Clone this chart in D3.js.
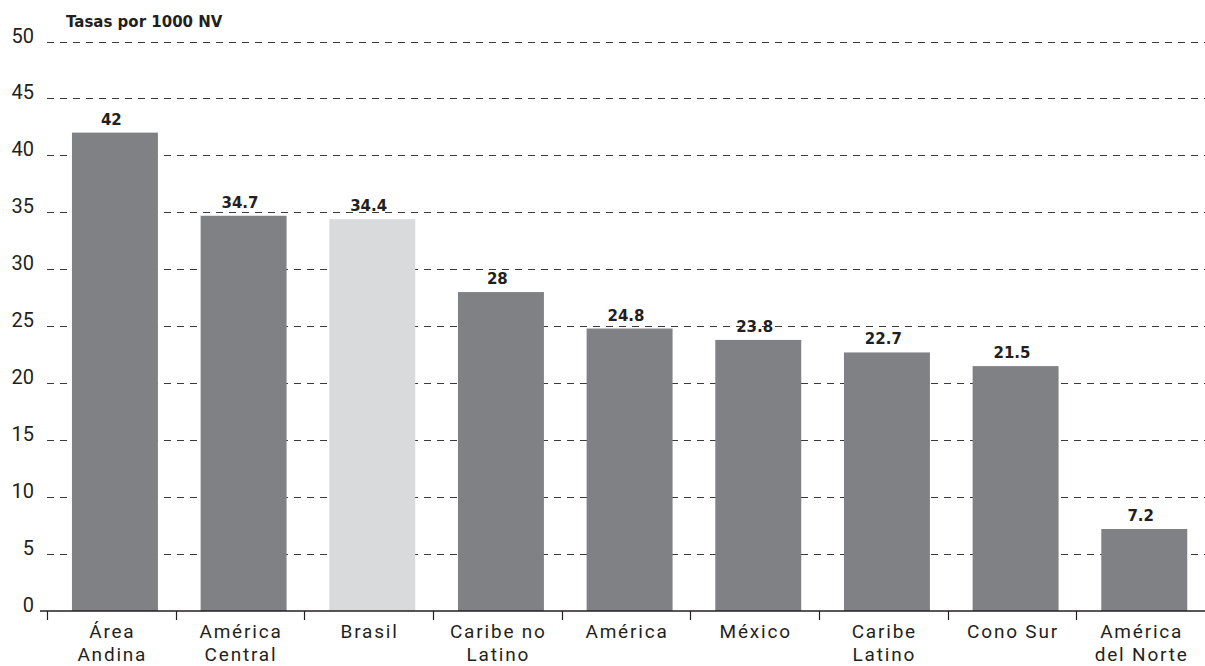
<!DOCTYPE html>
<html>
<head>
<meta charset="utf-8">
<script src="https://cdn.jsdelivr.net/npm/d3@7"></script>
<style>
  html, body { margin: 0; padding: 0; background: #fff; }
  svg { display: block; }
</style>
</head>
<body>
<svg id="chart" width="1205" height="666"></svg>
<script>
const categories = [["Área", "Andina"], ["América", "Central"], ["Brasil"], ["Caribe no", "Latino"], ["América"], ["México"], ["Caribe", "Latino"], ["Cono Sur"], ["América", "del Norte"]];
const values = [42, 34.7, 34.4, 28, 24.8, 23.8, 22.7, 21.5, 7.2];
const valueLabels = ["42", "34.7", "34.4", "28", "24.8", "23.8", "22.7", "21.5", "7.2"];
const highlighted = [false, false, true, false, false, false, false, false, false];
const yTicks = [0, 5, 10, 15, 20, 25, 30, 35, 40, 45, 50];
const yTitle = "Tasas por 1000 NV";

(function () {
const svg = d3.select("#chart");
const textColor = "#231f20";
const mLeft = 47, mRight = 1205, mBottom = 611, mTop = 41.5;

const keys = categories.map((c, i) => i);
const x = d3.scaleBand().domain(keys).range([mLeft, mRight]).padding(0);
const y = d3.scaleLinear().domain([0, 50]).range([mBottom, mTop]);
const bw = x.bandwidth();
const barOffset = bw * 0.194;
const barWidth = bw * 0.668;

// gridlines
svg.append("g").selectAll("line").data(yTicks.filter(t => t > 0)).join("line")
  .attr("x1", mLeft).attr("x2", mRight)
  .attr("y1", d => Math.round(y(d)) + 0.5).attr("y2", d => Math.round(y(d)) + 0.5)
  .attr("stroke", "#3a3a3a").attr("stroke-width", 1.1)
  .attr("stroke-dasharray", "7,6");

// y labels
svg.append("g").selectAll("text").data(yTicks).join("text")
  .attr("x", 34).attr("y", d => y(d) + 1)
  .attr("text-anchor", "end")
  .attr("font-family", "Roboto, sans-serif").attr("font-size", 20)
  .attr("fill", textColor)
  .text(d => d);

// title
svg.append("text").attr("x", 66).attr("y", 27)
  .attr("font-family", "'DejaVu Sans', sans-serif").attr("font-weight", "bold").attr("font-size", 15)
  .attr("fill", textColor).text(yTitle);

// bars
svg.append("g").selectAll("rect").data(values).join("rect")
  .attr("x", (d, i) => x(i) + barOffset)
  .attr("width", barWidth)
  .attr("y", d => y(d))
  .attr("height", d => y(0) - y(d))
  .attr("fill", (d, i) => highlighted[i] ? "#d9dadc" : "#808185");

// value labels
svg.append("g").selectAll("text").data(values).join("text")
  .attr("x", (d, i) => x(i) + bw / 2)
  .attr("y", d => y(d) - 8)
  .attr("text-anchor", "middle")
  .attr("font-family", "'DejaVu Sans', sans-serif").attr("font-weight", "bold").attr("font-size", 15)
  .attr("fill", textColor)
  .text((d, i) => valueLabels[i]);

// x axis line
svg.append("line").attr("x1", 40).attr("x2", mRight)
  .attr("y1", mBottom).attr("y2", mBottom)
  .attr("stroke", "#231f20").attr("stroke-width", 1.4);

// ticks
svg.append("g").selectAll("line").data(keys).join("line")
  .attr("x1", d => Math.round(x(d)) + 0.5).attr("x2", d => Math.round(x(d)) + 0.5)
  .attr("y1", mBottom).attr("y2", mBottom + 9)
  .attr("stroke", "#231f20").attr("stroke-width", 1.2);

// category labels
const cl = svg.append("g").selectAll("text").data(categories).join("text")
  .attr("text-anchor", "middle")
  .attr("font-family", "Roboto, sans-serif").attr("font-size", 19)
  .attr("letter-spacing", "1.8px")
  .attr("fill", textColor);
cl.each(function(lines, i) {
  const t = d3.select(this);
  lines.forEach((ln, j) => {
    t.append("tspan").attr("x", x(i) + bw / 2 + 1).attr("y", 638 + j * 23).text(ln);
  });
});
})();
</script>
</body>
</html>
